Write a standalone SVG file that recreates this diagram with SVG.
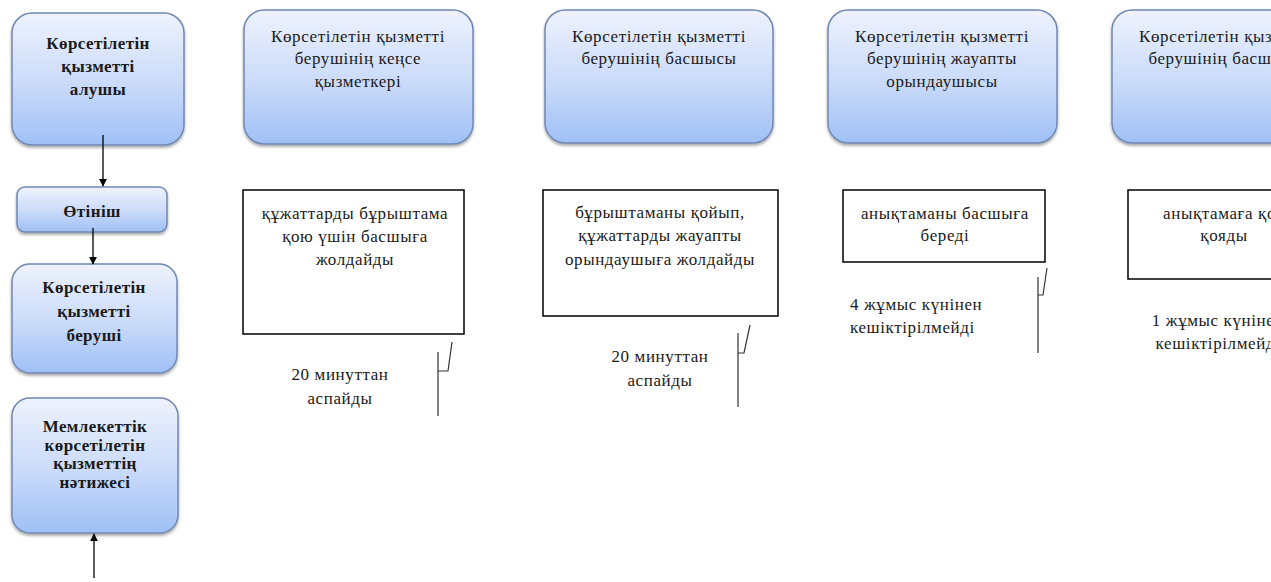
<svg xmlns="http://www.w3.org/2000/svg" width="1271" height="582" viewBox="0 0 1271 582">
<defs>
<linearGradient id="blue" x1="0" y1="0" x2="0" y2="1">
<stop offset="0" stop-color="#eef2fd"/>
<stop offset="0.55" stop-color="#c9daf9"/>
<stop offset="1" stop-color="#9fc0f6"/>
</linearGradient>
<filter id="sh" x="-10%" y="-10%" width="120%" height="125%">
<feGaussianBlur in="SourceAlpha" stdDeviation="1.5"/>
<feOffset dx="0" dy="2" result="b"/>
<feComponentTransfer><feFuncA type="linear" slope="0.35"/></feComponentTransfer>
<feMerge><feMergeNode/><feMergeNode in="SourceGraphic"/></feMerge>
</filter>
<marker id="ah" viewBox="0 0 10 10" refX="9" refY="5" markerWidth="8" markerHeight="8" markerUnits="userSpaceOnUse" orient="auto">
<path d="M0,0 L10,5 L0,10 z" fill="#000"/>
</marker>
</defs>
<style>
.rb{fill:url(#blue);stroke:#7088b2;stroke-width:1.5;filter:url(#sh)}
.bx{fill:#fff;stroke:#000;stroke-width:1.5}
.t{font-family:"Liberation Serif","Times New Roman",serif;font-size:17px;letter-spacing:0.6px;fill:#1a1a1a;text-anchor:middle}
.tb{font-family:"Liberation Serif","Times New Roman",serif;font-size:17px;letter-spacing:0.4px;font-weight:bold;fill:#1a1a1a;text-anchor:middle}
.ts{text-anchor:start}
.ln{fill:none;stroke:#000;stroke-width:1.3}
.tk{fill:none;stroke:#333;stroke-width:1.2}
</style>
<rect width="1271" height="582" fill="#fff"/>

<g id="n-alushy">
<rect class="rb" x="12" y="13" width="172" height="132" rx="20"/>
<text class="tb" x="98" y="49">Көрсетілетін</text>
<text class="tb" x="98" y="72">қызметті</text>
<text class="tb" x="98" y="95">алушы</text>
</g>
<g id="n-otinish">
<rect class="rb" x="17" y="187" width="150" height="45" rx="8"/>
<text class="tb" x="92" y="217">Өтініш</text>
</g>
<g id="n-berushi">
<rect class="rb" x="12" y="264" width="165" height="109" rx="18"/>
<text class="tb" x="94" y="293">Көрсетілетін</text>
<text class="tb" x="94" y="317">қызметті</text>
<text class="tb" x="94" y="341">беруші</text>
</g>
<g id="n-natizhe">
<rect class="rb" x="12" y="398" width="166" height="135" rx="18"/>
<text class="tb" x="95" y="432">Мемлекеттік</text>
<text class="tb" x="95" y="451">көрсетілетін</text>
<text class="tb" x="95" y="469">қызметтің</text>
<text class="tb" x="95" y="488">нәтижесі</text>
</g>

<g id="n-kense">
<rect class="rb" x="244" y="10" width="229" height="134" rx="20"/>
<text class="t" x="358" y="42">Көрсетілетін қызметті</text>
<text class="t" x="358" y="64">берушінің кеңсе</text>
<text class="t" x="358" y="87">қызметкері</text>
</g>
<g id="n-basshy">
<rect class="rb" x="545" y="10" width="228" height="133" rx="20"/>
<text class="t" x="659" y="42">Көрсетілетін қызметті</text>
<text class="t" x="659" y="64">берушінің басшысы</text>
</g>
<g id="n-zhauapty">
<rect class="rb" x="828" y="10" width="229" height="133" rx="20"/>
<text class="t" x="942" y="42">Көрсетілетін қызметті</text>
<text class="t" x="942" y="64">берушінің жауапты</text>
<text class="t" x="942" y="87">орындаушысы</text>
</g>
<g id="n-basshy2">
<rect class="rb" x="1112" y="10" width="229" height="133" rx="20"/>
<text class="t" x="1226" y="42">Көрсетілетін қызметті</text>
<text class="t" x="1226" y="64">берушінің басшысы</text>
</g>

<g id="s1">
<rect class="bx" x="243" y="190" width="221" height="144"/>
<text class="t" x="355" y="219">құжаттарды  бұрыштама</text>
<text class="t" x="355" y="242">қою үшін басшыға</text>
<text class="t" x="355" y="265">жолдайды</text>
<text class="t" x="340" y="380">20 минуттан</text>
<text class="t" x="340" y="404">аспайды</text>
<path class="tk" d="M438 352 V416 M438 371 H448 L452 342"/>
</g>
<g id="s2">
<rect class="bx" x="543" y="190" width="235" height="126"/>
<text class="t" x="660" y="218">бұрыштаманы  қойып,</text>
<text class="t" x="660" y="241">құжаттарды  жауапты</text>
<text class="t" x="660" y="265">орындаушыға жолдайды</text>
<text class="t" x="660" y="362">20 минуттан</text>
<text class="t" x="660" y="386">аспайды</text>
<path class="tk" d="M738 333 V407 M738 353 H744 L750 325"/>
</g>
<g id="s3">
<rect class="bx" x="843" y="190" width="202" height="72"/>
<text class="t" x="945" y="219">анықтаманы  басшыға</text>
<text class="t" x="945" y="241">береді</text>
<text class="t ts" x="850" y="310">4 жұмыс күнінен</text>
<text class="t ts" x="850" y="333">кешіктірілмейді</text>
<path class="tk" d="M1038 277 V353 M1038 295 H1043 L1047 268"/>
</g>
<g id="s4">
<rect class="bx" x="1128" y="190" width="190" height="89"/>
<text class="t" x="1224" y="219">анықтамаға  қол</text>
<text class="t" x="1224" y="241">қояды</text>
<text class="t" x="1218" y="326">1 жұмыс күнінен</text>
<text class="t" x="1218" y="349">кешіктірілмейді</text>
</g>

<g id="connectors">
<line class="ln" x1="103" y1="135" x2="103" y2="186" marker-end="url(#ah)"/>
<line class="ln" x1="93" y1="228" x2="93" y2="264" marker-end="url(#ah)"/>
<line class="ln" x1="94" y1="578" x2="94" y2="534" marker-end="url(#ah)"/>
</g>
</svg>
